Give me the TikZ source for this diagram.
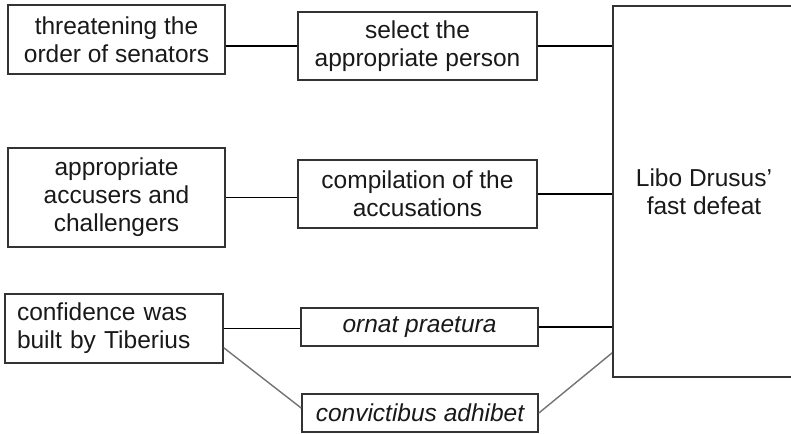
\documentclass[tikz,border=0pt]{standalone}
\usepackage{fontspec}
\setmainfont{Liberation Sans}
\begin{document}
\begin{tikzpicture}[x=1pt,y=-1pt,
  every node/.style={font=\fontsize{24.5}{28}\selectfont, text=black!90},
  box/.style={draw=black!80, line width=1.7pt, inner sep=0pt, align=center},
  conn/.style={line width=1.4pt, black},
  gconn/.style={line width=1.4pt, black!55}]
\useasboundingbox (0,0) rectangle (791,433);
\clip (0,0) rectangle (791,433);
\node[box, minimum width=217pt, minimum height=69pt] (a1) at (116.5,39.5) {threatening the\\order of senators};
\node[box, minimum width=239pt, minimum height=68pt] (b1) at (417.5,46) {select the\\appropriate person};
\node[box, minimum width=182pt, minimum height=371pt] (big) at (704,191.5) {Libo Drusus'\\fast defeat};
\node[box, minimum width=217pt, minimum height=99pt] (a2) at (116.5,197.5) {appropriate\\accusers and\\challengers};
\node[box, minimum width=239pt, minimum height=68pt] (b2) at (417.5,194) {compilation of the\\accusations};
\node[box, minimum width=218pt, minimum height=69pt, align=left, text width=194pt] (a3) at (114,328.5) {confidence was\\built by Tiberius};
\node[box, minimum width=237pt, minimum height=38pt] (b3) at (419.5,327) {\itshape ornat praetura};
\node[box, minimum width=236pt, minimum height=38pt] (b4) at (420,413) {\itshape convictibus adhibet};
\draw[conn] (b1.west -| a1.east) -- (b1.west);
\draw[conn] (b1.east) -- (b1.east -| big.west);
\draw[conn] (a2.east) -- (a2.east -| b2.west);
\draw[conn] (b2.east) -- (b2.east -| big.west);
\draw[conn] (a3.east) -- (a3.east -| b3.west);
\draw[conn] (b3.east) -- (b3.east -| big.west);
\draw[gconn] ([yshift=16pt]a3.south east) -- ([yshift=5pt]b4.west);
\draw[gconn] (b4.east) -- ([yshift=25pt]big.south west);
\end{tikzpicture}
\end{document}
